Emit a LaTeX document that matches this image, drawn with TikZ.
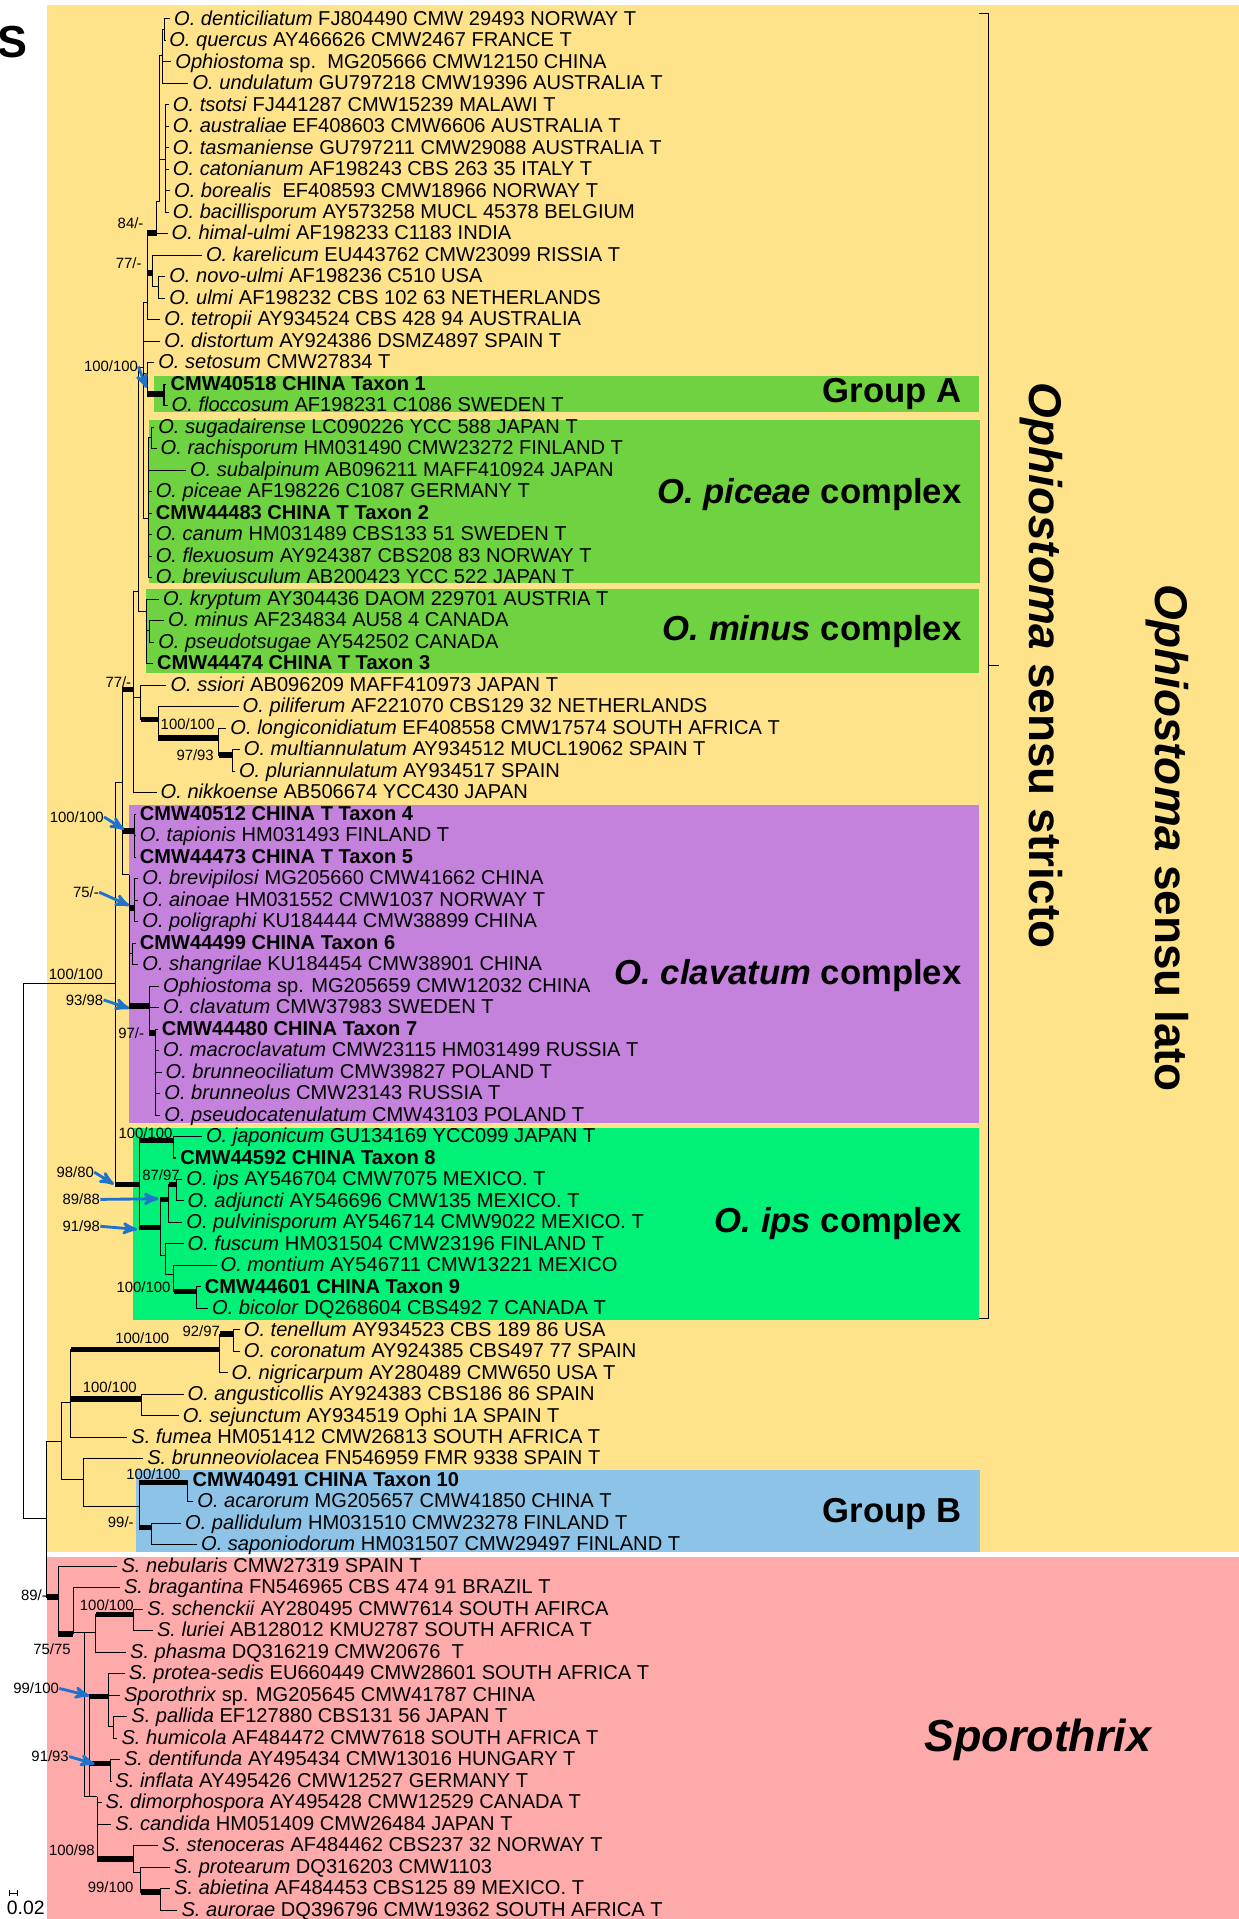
\documentclass[tikz,border=0pt]{standalone}
\usepackage{fontspec}
\setmainfont{Liberation Sans}
\usepackage{tikz}
\usetikzlibrary{arrows}

\definecolor{ossl}{RGB}{255,227,138}
\definecolor{sporo}{RGB}{255,170,170}
\definecolor{grpgreen}{RGB}{110,210,65}
\definecolor{clavpurple}{RGB}{196,130,220}
\definecolor{ipsgreen}{RGB}{0,240,120}
\definecolor{grpblue}{RGB}{140,195,230}
\definecolor{arrowblue}{RGB}{30,115,205}

\begin{document}
\begin{tikzpicture}[x=0.6pt,y=-0.6pt,
	taxon/.style={anchor=west,inner xsep=1.8pt,inner ysep=0pt,text height=7.0pt,text depth=1.0pt,font=\fontsize{9.85}{12}\selectfont},
	branch/.style={line width=0.5pt},
	bar/.style={line width=2.6pt},
	supp/.style={inner sep=0pt,font=\fontsize{7.3}{8}\selectfont},
	supparrow/.style={->,>=stealth',arrowblue,line width=1.4pt},
	grp/.style={anchor=east,inner sep=0pt,font=\fontsize{17}{20}\selectfont\bfseries},
	clade/.style={rotate=-90,inner sep=0pt,font=\fontsize{22.5}{26}\selectfont\bfseries}]
	\useasboundingbox (0,0) rectangle (1012,1568);
	\fill[white] (0,0) rectangle (1012,1568);
	
	% coloured groups
	\fill[ossl] (38,4) rectangle (1012,1268.5);
	\fill[sporo] (38,1272.6) rectangle (1012,1568);
	\fill[grpgreen] (125.8,307) rectangle (800,337);
	\fill[grpgreen] (121.4,343.5) rectangle (801,476.4);
	\fill[grpgreen] (119.6,481.3) rectangle (800,549.9);
	\fill[clavpurple] (105.7,657.4) rectangle (800,917.4);
	\fill[ipsgreen] (108.6,921.5) rectangle (800,1078.8);
	\fill[grpblue] (111.2,1201.3) rectangle (801,1268.5);
	
	% taxa
	\foreach \i/\x/\t in {
		1/142/{\textit{O. denticiliatum} FJ804490 CMW 29493 NORWAY T},
		2/138/{\textit{O. quercus} AY466626 CMW2467 FRANCE T},
		3/143/{\textit{Ophiostoma} sp.\ \ MG205666 CMW12150 CHINA},
		4/157/{\textit{O. undulatum} GU797218 CMW19396 AUSTRALIA T},
		5/141/{\textit{O. tsotsi} FJ441287 CMW15239 MALAWI T},
		6/141/{\textit{O. australiae} EF408603 CMW6606 AUSTRALIA T},
		7/141/{\textit{O. tasmaniense} GU797211 CMW29088 AUSTRALIA T},
		8/141/{\textit{O. catonianum} AF198243 CBS 263 35 ITALY T},
		9/142/{\textit{O. borealis}\ \ EF408593 CMW18966 NORWAY T},
		10/141/{\textit{O. bacillisporum} AY573258 MUCL 45378 BELGIUM},
		11/140/{\textit{O. himal-ulmi} AF198233 C1183 INDIA},
		12/168/{\textit{O. karelicum} EU443762 CMW23099 RISSIA T},
		13/138/{\textit{O. novo-ulmi} AF198236 C510 USA},
		14/138/{\textit{O. ulmi} AF198232 CBS 102 63 NETHERLANDS},
		15/134/{\textit{O. tetropii} AY934524 CBS 428 94 AUSTRALIA},
		16/134/{\textit{O. distortum} AY924386 DSMZ4897 SPAIN T},
		17/129/{\textit{O. setosum} CMW27834 T},
		18/139/{\textbf{CMW40518 CHINA Taxon 1}},
		19/140/{\textit{O. floccosum} AF198231 C1086 SWEDEN T},
		20/129/{\textit{O. sugadairense} LC090226 YCC 588 JAPAN T},
		21/131/{\textit{O. rachisporum} HM031490 CMW23272 FINLAND T},
		22/155/{\textit{O. subalpinum} AB096211 MAFF410924 JAPAN},
		23/127/{\textit{O. piceae} AF198226 C1087 GERMANY T},
		24/127/{\textbf{CMW44483 CHINA T Taxon 2}},
		25/127/{\textit{O. canum} HM031489 CBS133 51 SWEDEN T},
		26/127/{\textit{O. flexuosum} AY924387 CBS208 83 NORWAY T},
		27/127/{\textit{O. breviusculum} AB200423 YCC 522 JAPAN T},
		28/133/{\textit{O. kryptum} AY304436 DAOM 229701 AUSTRIA T},
		29/137/{\textit{O. minus} AF234834 AU58 4 CANADA},
		30/129/{\textit{O. pseudotsugae} AY542502 CANADA},
		31/128/{\textbf{CMW44474 CHINA T Taxon 3}},
		32/139/{\textit{O. ssiori} AB096209 MAFF410973 JAPAN T},
		33/198/{\textit{O. piliferum} AF221070 CBS129 32 NETHERLANDS},
		34/188/{\textit{O. longiconidiatum} EF408558 CMW17574 SOUTH AFRICA T},
		35/199/{\textit{O. multiannulatum} AY934512 MUCL19062 SPAIN T},
		36/195/{\textit{O. pluriannulatum} AY934517 SPAIN},
		37/131/{\textit{O. nikkoense} AB506674 YCC430 JAPAN},
		38/114/{\textbf{CMW40512 CHINA T Taxon 4}},
		39/114/{\textit{O. tapionis} HM031493 FINLAND T},
		40/114/{\textbf{CMW44473 CHINA T Taxon 5}},
		41/116/{\textit{O. brevipilosi} MG205660 CMW41662 CHINA},
		42/116/{\textit{O. ainoae} HM031552 CMW1037 NORWAY T},
		43/116/{\textit{O. poligraphi} KU184444 CMW38899 CHINA},
		44/114/{\textbf{CMW44499 CHINA Taxon 6}},
		45/116/{\textit{O. shangrilae} KU184454 CMW38901 CHINA},
		46/133/{\textit{Ophiostoma} sp. MG205659 CMW12032 CHINA},
		47/133/{\textit{O. clavatum} CMW37983 SWEDEN T},
		48/132/{\textbf{CMW44480 CHINA Taxon 7}},
		49/133/{\textit{O. macroclavatum} CMW23115 HM031499 RUSSIA T},
		50/135/{\textit{O. brunneociliatum} CMW39827 POLAND T},
		51/134/{\textit{O. brunneolus} CMW23143 RUSSIA T},
		52/134/{\textit{O. pseudocatenulatum} CMW43103 POLAND T},
		53/168/{\textit{O. japonicum} GU134169 YCC099 JAPAN T},
		54/147/{\textbf{CMW44592 CHINA Taxon 8}},
		55/152/{\textit{O. ips} AY546704 CMW7075 MEXICO. T},
		56/153/{\textit{O. adjuncti} AY546696 CMW135 MEXICO. T},
		57/152/{\textit{O. pulvinisporum} AY546714 CMW9022 MEXICO. T},
		58/153/{\textit{O. fuscum} HM031504 CMW23196 FINLAND T},
		59/180/{\textit{O. montium} AY546711 CMW13221 MEXICO},
		60/167/{\textbf{CMW44601 CHINA Taxon 9}},
		61/173/{\textit{O. bicolor} DQ268604 CBS492 7 CANADA T},
		62/199/{\textit{O. tenellum} AY934523 CBS 189 86 USA},
		63/199/{\textit{O. coronatum} AY924385 CBS497 77 SPAIN},
		64/189/{\textit{O. nigricarpum} AY280489 CMW650 USA T},
		65/153/{\textit{O. angusticollis} AY924383 CBS186 86 SPAIN},
		66/149/{\textit{O. sejunctum} AY934519 Ophi 1A SPAIN T},
		67/107/{\textit{S. fumea} HM051412 CMW26813 SOUTH AFRICA T},
		68/120/{\textit{S. brunneoviolacea} FN546959 FMR 9338 SPAIN T},
		69/157/{\textbf{CMW40491 CHINA Taxon 10}},
		70/161/{\textit{O. acarorum} MG205657 CMW41850 CHINA T},
		71/151/{\textit{O. pallidulum} HM031510 CMW23278 FINLAND T},
		72/164/{\textit{O. saponiodorum} HM031507 CMW29497 FINLAND T},
		73/99/{\textit{S. nebularis} CMW27319 SPAIN T},
		74/101/{\textit{S. bragantina} FN546965 CBS 474 91 BRAZIL T},
		75/120/{\textit{S. schenckii} AY280495 CMW7614 SOUTH AFIRCA},
		76/128/{\textit{S. luriei} AB128012 KMU2787 SOUTH AFRICA T},
		77/106/{\textit{S. phasma} DQ316219 CMW20676\ \ T},
		78/105/{\textit{S. protea-sedis} EU660449 CMW28601 SOUTH AFRICA T},
		79/101/{\textit{Sporothrix} sp. MG205645 CMW41787 CHINA},
		80/107/{\textit{S. pallida} EF127880 CBS131 56 JAPAN T},
		81/99/{\textit{S. humicola} AF484472 CMW7618 SOUTH AFRICA T},
		82/101/{\textit{S. dentifunda} AY495434 CMW13016 HUNGARY T},
		83/94/{\textit{S. inflata} AY495426 CMW12527 GERMANY T},
		84/86/{\textit{S. dimorphospora} AY495428 CMW12529 CANADA T},
		85/94/{\textit{S. candida} HM051409 CMW26484 JAPAN T},
		86/132/{\textit{S. stenoceras} AF484462 CBS237 32 NORWAY T},
		87/142/{\textit{S. protearum} DQ316203 CMW1103},
		88/142/{\textit{S. abietina} AF484453 CBS125 89 MEXICO. T},
		89/148/{\textit{S. aurorae} DQ396796 CMW19362 SOUTH AFRICA T}}
		\node[taxon] (t\i) at ({\x-3},{15.5+(\i-1)*17.56}) {\t};
	
	% internal nodes of the tree
	\coordinate (R) at (19,1020);
	\coordinate (O0) at (94,803.6);
	\coordinate (O1) at (100,639.5);
	\coordinate (O2) at (109,563.5);
	\coordinate (T4) at (110,679);
	\coordinate (OC) at (105.7,714.6);
	\coordinate (C75) at (110,741.8);
	\coordinate (C6) at (108,779);
	\coordinate (C93) at (122,822);
	\coordinate (C97) at (127,844);
	\coordinate (O3) at (113,483);
	\coordinate (O4) at (115,570);
	\coordinate (PL) at (129.5,588);
	\coordinate (PL2) at (178.6,603);
	\coordinate (PL3) at (189.6,617);
	\coordinate (MN) at (119.5,499.5);
	\coordinate (MN2) at (122,515);
	\coordinate (A1) at (117,300);
	\coordinate (A2) at (120.5,247);
	\coordinate (N84) at (128,190.5);
	\coordinate (B2) at (130.5,165);
	\coordinate (C1) at (132.5,45);
	\coordinate (C2) at (134.5,24);
	\coordinate (B3) at (135,130);
	\coordinate (N77) at (125,223);
	\coordinate (N77b) at (129.5,234.5);
	\coordinate (GA) at (120.5,305);
	\coordinate (GA1) at (134,322);
	\coordinate (P) at (121.4,424);
	\coordinate (PS) at (123.5,357.4);
	\coordinate (I0) at (113.7,967.7);
	\coordinate (J) at (142,932);
	\coordinate (I1) at (131,1003);
	\coordinate (I2) at (137.8,980);
	\coordinate (I3) at (144,967.7);
	\coordinate (I4) at (135.5,1026);
	\coordinate (I5) at (142,1041);
	\coordinate (I6) at (160.4,1055);
	\coordinate (L0) at (38,1241);
	\coordinate (L1) at (50,1178);
	\coordinate (X1) at (58,1146);
	\coordinate (TN) at (179.6,1102.5);
	\coordinate (TC) at (191,1090);
	\coordinate (AN) at (116,1143);
	\coordinate (X2) at (68,1209);
	\coordinate (GB) at (113.6,1231);
	\coordinate (GB1) at (153,1211.6);
	\coordinate (GB2) at (124,1248);
	\coordinate (SP) at (47.4,1305);
	\coordinate (S1) at (60,1335);
	\coordinate (S2) at (69,1334);
	\coordinate (S3) at (78.4,1334);
	\coordinate (SL) at (109.4,1319);
	\coordinate (S4) at (73,1468);
	\coordinate (S5) at (89,1386);
	\coordinate (S6p) at (93,1411);
	\coordinate (S7) at (90.4,1441);
	\coordinate (S8) at (79.5,1468);
	\coordinate (S10) at (109.4,1519);
	\coordinate (S11) at (115,1530);
	\coordinate (S12) at (131,1546);
	
	% branches
	\foreach \p/\c in {R/O0,R/L0,O0/O1,O0/I0,O1/O2,O1/T4,O1/OC,OC/C75,OC/C6,OC/C93,C93/C97,
		O2/O3,O2/O4,O4/PL,PL/PL2,PL2/PL3,O3/A1,O3/MN,MN/MN2,A1/A2,A1/GA,A1/P,A2/N84,A2/N77,
		N84/B2,B2/C1,B2/B3,C1/C2,N77/N77b,GA/GA1,P/PS,I0/J,I0/I1,I1/I2,I1/I4,I2/I3,I4/I5,I5/I6,
		L0/L1,L0/SP,L1/X1,L1/X2,X1/TN,X1/AN,TN/TC,X2/GB,GB/GB1,GB/GB2,SP/S1,S1/S2,S2/S3,S2/S4,
		S3/SL,S4/S5,S4/S7,S4/S8,S5/S6p,S8/S10,S10/S11,S11/S12}
		\draw[branch] (\p) |- (\c);
	\foreach \p/\c in {C2/1,C2/2,C1/3,C1/4,B3/5,B3/6,B3/7,B3/8,B3/9,B3/10,N84/11,N77/12,N77b/13,
		N77b/14,A2/15,A1/16,GA/17,GA1/18,GA1/19,PS/20,PS/21,P/22,P/23,P/24,P/25,P/26,P/27,MN/28,
		MN2/29,MN2/30,MN/31,O4/32,PL/33,PL2/34,PL3/35,PL3/36,O2/37,T4/38,T4/39,T4/40,C75/41,C75/42,
		C75/43,C6/44,C6/45,C93/46,C93/47,C97/48,C97/49,C97/50,C97/51,C97/52,J/53,J/54,I3/55,I3/56,
		I2/57,I4/58,I5/59,I6/60,I6/61,TC/62,TC/63,TN/64,AN/65,AN/66,X1/67,X2/68,GB1/69,GB1/70,
		GB2/71,GB2/72,SP/73,S1/74,SL/75,SL/76,S3/77,S5/78,S5/79,S6p/80,S6p/81,S7/82,S7/83,S8/84,
		S8/85,S10/86,S11/87,S12/88,S12/89}
		\draw[branch] (\p) |- (t\c.west);
	
	% supported branches
	\foreach \p/\c in {O0/I0,O1/O2,O1/T4,OC/C75,OC/C93,C93/C97,O4/PL,PL/PL2,PL2/PL3,A2/N84,A2/N77,
		GA/GA1,I0/J,I0/I1,I1/I2,I2/I3,I5/I6,L0/SP,X1/TN,X1/AN,TN/TC,GB/GB1,GB/GB2,SP/S1,S3/SL,
		S4/S5,S4/S7,S8/S10,S11/S12}
		\draw[bar] (\p |- \c) -- (\c);
	
	% support values
	\node[supp,anchor=east] (s84) at (117.5,182.5) {84/-};
	\node[supp,anchor=east] (s77a) at (116,215) {77/-};
	\node[supp,anchor=east] (sGA) at (113,299.5) {100/100};
	\node[supp,anchor=east] (s77b) at (107.5,557) {77/-};
	\node[supp,anchor=west] (sPL2) at (131,592) {100/100};
	\node[supp,anchor=east] (sPL3) at (175,617) {97/93};
	\node[supp,anchor=east] (sT4) at (85,667.5) {100/100};
	\node[supp,anchor=east] (sC75) at (81,729) {75/-};
	\node[supp] (sRoot) at (62,796) {100/100};
	\node[supp,anchor=east] (sC93) at (84.6,817) {93/98};
	\node[supp,anchor=east] (sC97) at (118,844) {97/-};
	\node[supp,anchor=west] (sJ) at (96.6,925.5) {100/100};
	\node[supp,anchor=west] (sI3) at (116,960.4) {87/97};
	\node[supp,anchor=east] (sI0) at (77,957.7) {98/80};
	\node[supp,anchor=east] (sI2) at (82,980) {89/88};
	\node[supp,anchor=east] (sI1) at (82,1002) {91/98};
	\node[supp,anchor=east] (sI6) at (139.6,1052) {100/100};
	\node[supp,anchor=east] (sTN) at (138.5,1093) {100/100};
	\node[supp,anchor=east] (sTC) at (180,1088) {92/97};
	\node[supp,anchor=west] (sAN) at (67.4,1133.7) {100/100};
	\node[supp,anchor=west] (sGB1) at (103,1204.5) {100/100};
	\node[supp,anchor=east] (sGB2) at (109.5,1244) {99/-};
	\node[supp,anchor=east] (sSP) at (38.5,1303.4) {89/-};
	\node[supp] (sS1) at (42.5,1347.5) {75/75};
	\node[supp,anchor=west] (sSL) at (65,1311.5) {100/100};
	\node[supp,anchor=east] (sS5) at (48.5,1379.6) {99/100};
	\node[supp,anchor=east] (sS7) at (56.5,1435.2) {91/93};
	\node[supp,anchor=east] (sS10) at (77.7,1512) {100/98};
	\node[supp,anchor=east] (sS12) at (109.4,1542) {99/100};
	
	% pointers to new taxa
	\coordinate (aGA) at (119.8,317);
	\coordinate (aT4) at (101.4,677.8);
	\coordinate (aC75) at (105.7,740);
	\coordinate (aC93) at (105.7,824);
	\coordinate (aI0) at (93,967.7);
	\coordinate (aI2) at (129.4,979.5);
	\coordinate (aI1) at (112,1004.5);
	\coordinate (aS5) at (72.9,1385.6);
	\coordinate (aS7) at (77.3,1441.4);
	\foreach \s/\a in {sGA/aGA,sT4/aT4,sC75/aC75,sC93/aC93,sI0/aI0,sI2/aI2,sI1/aI1,sS5/aS5,sS7/aS7}
		\draw[supparrow] (\s.east) -- (\a);
	
	% group labels
	\node[grp] (gA) at (786,322) {Group A};
	\node[grp] (gP) at (786,404) {\textit{O. piceae} complex};
	\node[grp] (gM) at (786,516) {\textit{O. minus} complex};
	\node[grp] (gC) at (786,797) {\textit{O. clavatum} complex};
	\node[grp] (gI) at (786,1000) {\textit{O. ips} complex};
	\node[grp] (gB) at (786,1237) {Group B};
	\node[font=\fontsize{22}{26}\selectfont\bfseries\itshape] (gS) at (848,1422) {Sporothrix};
	
	% Ophiostoma sensu stricto bracket
	\coordinate (ssTop) at (800,11);
	\coordinate (ssMid) at (808,544);
	\coordinate (ssBot) at (800,1077);
	\draw[branch] (ssTop) -- ++(8,0) |- (ssBot);
	\draw[branch] (ssMid) -- ++(8,0);
	\node[clade] (ss) at (851,544) {\textit{Ophiostoma} sensu stricto};
	\node[clade] (sl) at (954,685) {\textit{Ophiostoma} sensu lato};
	
	% scale bar and panel letter
	\coordinate (sb1) at (8,1547);
	\coordinate (sb2) at (14.6,1547);
	\draw[branch] (sb1) -- (sb2) (sb1) ++(0,-2.5) -- ++(0,5) (sb2) ++(0,-2.5) -- ++(0,5);
	\node[inner sep=0pt,font=\fontsize{9.5}{11}\selectfont] (sbl) at (21,1559) {0.02};
	\node[inner sep=0pt,font=\fontsize{22}{26}\selectfont\bfseries] (panel) at (10.5,34) {S};
\end{tikzpicture}
\end{document}
